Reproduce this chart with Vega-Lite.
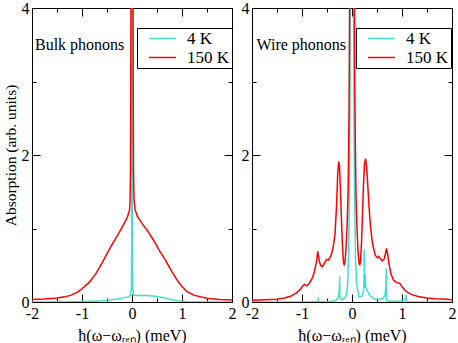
{
"$schema": "https://vega.github.io/schema/vega-lite/v6.json",
"autosize": {"type": "pad"},
"padding": {"left": 3, "top": 0, "right": 0, "bottom": 0},
"background": "white",
"config": {
  "view": {"stroke": null},
  "font": "Liberation Serif",
  "axis": {"domainColor": "black", "tickColor": "black", "labelColor": "black", "labelFont": "Liberation Serif", "labelFontSize": 16, "titleFont": "Liberation Serif", "titleFontSize": 16, "titleFontWeight": "normal", "titleColor": "black", "grid": false, "labelFlush": false, "labelOverlap": false, "domainWidth": 1, "tickWidth": 1},
  "legend": {"orient": "none", "legendY": 20, "title": null, "strokeColor": "black", "fillColor": "white", "padding": 2, "symbolType": "M-4,0H4", "symbolSize": 45, "symbolStrokeWidth": 1.5, "symbolOffset": 15, "labelFont": "Liberation Serif", "labelFontSize": 17, "labelColor": "black", "labelOffset": 16, "rowPadding": 1}
},
"data": {"values": [
{"p":"b","T":"4 K","x":-2,"y":0},{"p":"b","T":"4 K","x":-1.5,"y":0},{"p":"b","T":"4 K","x":-1.2,"y":0.003},{"p":"b","T":"4 K","x":-1,"y":0.006},{"p":"b","T":"4 K","x":-0.8,"y":0.01},{"p":"b","T":"4 K","x":-0.6,"y":0.016},{"p":"b","T":"4 K","x":-0.4,"y":0.03},{"p":"b","T":"4 K","x":-0.2,"y":0.05},{"p":"b","T":"4 K","x":-0.08,"y":0.07},{"p":"b","T":"4 K","x":-0.03,"y":0.09},{"p":"b","T":"4 K","x":-0.012,"y":0.2},{"p":"b","T":"4 K","x":-0.006,"y":0.8},{"p":"b","T":"4 K","x":0,"y":10},{"p":"b","T":"4 K","x":0.006,"y":0.8},{"p":"b","T":"4 K","x":0.012,"y":0.2},{"p":"b","T":"4 K","x":0.03,"y":0.095},{"p":"b","T":"4 K","x":0.1,"y":0.09},{"p":"b","T":"4 K","x":0.3,"y":0.088},{"p":"b","T":"4 K","x":0.5,"y":0.075},{"p":"b","T":"4 K","x":0.65,"y":0.055},{"p":"b","T":"4 K","x":0.8,"y":0.03},{"p":"b","T":"4 K","x":0.95,"y":0.012},{"p":"b","T":"4 K","x":1.1,"y":0.004},{"p":"b","T":"4 K","x":1.3,"y":0},{"p":"b","T":"4 K","x":2,"y":0},
{"p":"b","T":"150 K","x":-2,"y":0.035},{"p":"b","T":"150 K","x":-1.75,"y":0.042},{"p":"b","T":"150 K","x":-1.5,"y":0.055},{"p":"b","T":"150 K","x":-1.35,"y":0.07},{"p":"b","T":"150 K","x":-1.23,"y":0.09},{"p":"b","T":"150 K","x":-1.1,"y":0.13},{"p":"b","T":"150 K","x":-1,"y":0.18},{"p":"b","T":"150 K","x":-0.85,"y":0.27},{"p":"b","T":"150 K","x":-0.72,"y":0.39},{"p":"b","T":"150 K","x":-0.6,"y":0.53},{"p":"b","T":"150 K","x":-0.46,"y":0.71},{"p":"b","T":"150 K","x":-0.35,"y":0.84},{"p":"b","T":"150 K","x":-0.26,"y":0.94},{"p":"b","T":"150 K","x":-0.18,"y":1.04},{"p":"b","T":"150 K","x":-0.09,"y":1.16},{"p":"b","T":"150 K","x":-0.05,"y":1.25},{"p":"b","T":"150 K","x":-0.04,"y":1.35},{"p":"b","T":"150 K","x":-0.03,"y":1.8},{"p":"b","T":"150 K","x":-0.02,"y":4.2},{"p":"b","T":"150 K","x":0,"y":10},{"p":"b","T":"150 K","x":0.02,"y":4.2},{"p":"b","T":"150 K","x":0.03,"y":1.8},{"p":"b","T":"150 K","x":0.04,"y":1.4},{"p":"b","T":"150 K","x":0.06,"y":1.26},{"p":"b","T":"150 K","x":0.11,"y":1.16},{"p":"b","T":"150 K","x":0.2,"y":1.07},{"p":"b","T":"150 K","x":0.34,"y":0.94},{"p":"b","T":"150 K","x":0.44,"y":0.83},{"p":"b","T":"150 K","x":0.54,"y":0.71},{"p":"b","T":"150 K","x":0.67,"y":0.57},{"p":"b","T":"150 K","x":0.8,"y":0.41},{"p":"b","T":"150 K","x":0.9,"y":0.3},{"p":"b","T":"150 K","x":1,"y":0.21},{"p":"b","T":"150 K","x":1.1,"y":0.14},{"p":"b","T":"150 K","x":1.25,"y":0.09},{"p":"b","T":"150 K","x":1.5,"y":0.05},{"p":"b","T":"150 K","x":1.75,"y":0.035},{"p":"b","T":"150 K","x":2,"y":0.028},
{"p":"w","T":"4 K","x":-2,"y":0},{"p":"w","T":"4 K","x":-1,"y":0},{"p":"w","T":"4 K","x":-0.8,"y":0.002},{"p":"w","T":"4 K","x":-0.68,"y":0.006},{"p":"w","T":"4 K","x":-0.672,"y":0.065},{"p":"w","T":"4 K","x":-0.668,"y":0.004},{"p":"w","T":"4 K","x":-0.5,"y":0.006},{"p":"w","T":"4 K","x":-0.4,"y":0.01},{"p":"w","T":"4 K","x":-0.33,"y":0.02},{"p":"w","T":"4 K","x":-0.29,"y":0.04},{"p":"w","T":"4 K","x":-0.265,"y":0.09},{"p":"w","T":"4 K","x":-0.252,"y":0.2},{"p":"w","T":"4 K","x":-0.246,"y":0.35},{"p":"w","T":"4 K","x":-0.243,"y":0.08},{"p":"w","T":"4 K","x":-0.235,"y":0.05},{"p":"w","T":"4 K","x":-0.21,"y":0.03},{"p":"w","T":"4 K","x":-0.17,"y":0.04},{"p":"w","T":"4 K","x":-0.13,"y":0.07},{"p":"w","T":"4 K","x":-0.1,"y":0.14},{"p":"w","T":"4 K","x":-0.085,"y":0.26},{"p":"w","T":"4 K","x":-0.065,"y":0.7},{"p":"w","T":"4 K","x":-0.05,"y":1.6},{"p":"w","T":"4 K","x":-0.04,"y":3},{"p":"w","T":"4 K","x":-0.02,"y":7},{"p":"w","T":"4 K","x":0,"y":10},{"p":"w","T":"4 K","x":0.02,"y":7},{"p":"w","T":"4 K","x":0.04,"y":2.6},{"p":"w","T":"4 K","x":0.05,"y":1.5},{"p":"w","T":"4 K","x":0.07,"y":0.6},{"p":"w","T":"4 K","x":0.09,"y":0.26},{"p":"w","T":"4 K","x":0.14,"y":0.07},{"p":"w","T":"4 K","x":0.2,"y":0.08},{"p":"w","T":"4 K","x":0.23,"y":0.15},{"p":"w","T":"4 K","x":0.24,"y":0.3},{"p":"w","T":"4 K","x":0.247,"y":0.72},{"p":"w","T":"4 K","x":0.252,"y":0.2},{"p":"w","T":"4 K","x":0.262,"y":0.2},{"p":"w","T":"4 K","x":0.268,"y":0.38},{"p":"w","T":"4 K","x":0.273,"y":0.22},{"p":"w","T":"4 K","x":0.29,"y":0.17},{"p":"w","T":"4 K","x":0.31,"y":0.15},{"p":"w","T":"4 K","x":0.35,"y":0.09},{"p":"w","T":"4 K","x":0.45,"y":0.04},{"p":"w","T":"4 K","x":0.55,"y":0.035},{"p":"w","T":"4 K","x":0.62,"y":0.05},{"p":"w","T":"4 K","x":0.66,"y":0.09},{"p":"w","T":"4 K","x":0.678,"y":0.2},{"p":"w","T":"4 K","x":0.684,"y":0.46},{"p":"w","T":"4 K","x":0.688,"y":0.02},{"p":"w","T":"4 K","x":0.75,"y":0.01},{"p":"w","T":"4 K","x":0.9,"y":0.01},{"p":"w","T":"4 K","x":1.03,"y":0.02},{"p":"w","T":"4 K","x":1.075,"y":0.05},{"p":"w","T":"4 K","x":1.085,"y":0.1},{"p":"w","T":"4 K","x":1.09,"y":0},{"p":"w","T":"4 K","x":1.3,"y":0},{"p":"w","T":"4 K","x":2,"y":0},
{"p":"w","T":"150 K","x":-2,"y":0.023},{"p":"w","T":"150 K","x":-1.75,"y":0.03},{"p":"w","T":"150 K","x":-1.5,"y":0.036},{"p":"w","T":"150 K","x":-1.35,"y":0.055},{"p":"w","T":"150 K","x":-1.23,"y":0.077},{"p":"w","T":"150 K","x":-1.12,"y":0.12},{"p":"w","T":"150 K","x":-1.05,"y":0.16},{"p":"w","T":"150 K","x":-0.98,"y":0.22},{"p":"w","T":"150 K","x":-0.95,"y":0.24},{"p":"w","T":"150 K","x":-0.9,"y":0.22},{"p":"w","T":"150 K","x":-0.85,"y":0.26},{"p":"w","T":"150 K","x":-0.79,"y":0.33},{"p":"w","T":"150 K","x":-0.75,"y":0.42},{"p":"w","T":"150 K","x":-0.71,"y":0.55},{"p":"w","T":"150 K","x":-0.685,"y":0.69},{"p":"w","T":"150 K","x":-0.66,"y":0.58},{"p":"w","T":"150 K","x":-0.63,"y":0.5},{"p":"w","T":"150 K","x":-0.59,"y":0.48},{"p":"w","T":"150 K","x":-0.55,"y":0.53},{"p":"w","T":"150 K","x":-0.51,"y":0.58},{"p":"w","T":"150 K","x":-0.47,"y":0.57},{"p":"w","T":"150 K","x":-0.42,"y":0.63},{"p":"w","T":"150 K","x":-0.38,"y":0.73},{"p":"w","T":"150 K","x":-0.34,"y":0.92},{"p":"w","T":"150 K","x":-0.31,"y":1.3},{"p":"w","T":"150 K","x":-0.285,"y":1.75},{"p":"w","T":"150 K","x":-0.265,"y":1.91},{"p":"w","T":"150 K","x":-0.25,"y":1.85},{"p":"w","T":"150 K","x":-0.23,"y":1.5},{"p":"w","T":"150 K","x":-0.21,"y":1.1},{"p":"w","T":"150 K","x":-0.19,"y":0.75},{"p":"w","T":"150 K","x":-0.17,"y":0.54},{"p":"w","T":"150 K","x":-0.155,"y":0.5},{"p":"w","T":"150 K","x":-0.14,"y":0.55},{"p":"w","T":"150 K","x":-0.12,"y":0.72},{"p":"w","T":"150 K","x":-0.1,"y":1},{"p":"w","T":"150 K","x":-0.08,"y":1.45},{"p":"w","T":"150 K","x":-0.066,"y":2.07},{"p":"w","T":"150 K","x":-0.055,"y":3},{"p":"w","T":"150 K","x":-0.045,"y":4.5},{"p":"w","T":"150 K","x":-0.02,"y":10},{"p":"w","T":"150 K","x":0,"y":12},{"p":"w","T":"150 K","x":0.02,"y":10},{"p":"w","T":"150 K","x":0.045,"y":4.5},{"p":"w","T":"150 K","x":0.055,"y":3},{"p":"w","T":"150 K","x":0.068,"y":2.07},{"p":"w","T":"150 K","x":0.08,"y":1.45},{"p":"w","T":"150 K","x":0.1,"y":1},{"p":"w","T":"150 K","x":0.12,"y":0.7},{"p":"w","T":"150 K","x":0.14,"y":0.53},{"p":"w","T":"150 K","x":0.155,"y":0.5},{"p":"w","T":"150 K","x":0.17,"y":0.56},{"p":"w","T":"150 K","x":0.19,"y":0.8},{"p":"w","T":"150 K","x":0.21,"y":1.2},{"p":"w","T":"150 K","x":0.23,"y":1.6},{"p":"w","T":"150 K","x":0.25,"y":1.88},{"p":"w","T":"150 K","x":0.27,"y":1.95},{"p":"w","T":"150 K","x":0.29,"y":1.85},{"p":"w","T":"150 K","x":0.31,"y":1.65},{"p":"w","T":"150 K","x":0.34,"y":1.3},{"p":"w","T":"150 K","x":0.37,"y":1.03},{"p":"w","T":"150 K","x":0.4,"y":0.85},{"p":"w","T":"150 K","x":0.43,"y":0.73},{"p":"w","T":"150 K","x":0.47,"y":0.63},{"p":"w","T":"150 K","x":0.51,"y":0.6},{"p":"w","T":"150 K","x":0.53,"y":0.62},{"p":"w","T":"150 K","x":0.56,"y":0.6},{"p":"w","T":"150 K","x":0.6,"y":0.56},{"p":"w","T":"150 K","x":0.64,"y":0.58},{"p":"w","T":"150 K","x":0.67,"y":0.66},{"p":"w","T":"150 K","x":0.69,"y":0.73},{"p":"w","T":"150 K","x":0.71,"y":0.66},{"p":"w","T":"150 K","x":0.74,"y":0.52},{"p":"w","T":"150 K","x":0.78,"y":0.38},{"p":"w","T":"150 K","x":0.83,"y":0.3},{"p":"w","T":"150 K","x":0.88,"y":0.27},{"p":"w","T":"150 K","x":0.93,"y":0.26},{"p":"w","T":"150 K","x":0.96,"y":0.25},{"p":"w","T":"150 K","x":1.01,"y":0.2},{"p":"w","T":"150 K","x":1.06,"y":0.16},{"p":"w","T":"150 K","x":1.11,"y":0.13},{"p":"w","T":"150 K","x":1.2,"y":0.1},{"p":"w","T":"150 K","x":1.32,"y":0.075},{"p":"w","T":"150 K","x":1.5,"y":0.055},{"p":"w","T":"150 K","x":1.65,"y":0.045},{"p":"w","T":"150 K","x":1.8,"y":0.04},{"p":"w","T":"150 K","x":1.9,"y":0.037},{"p":"w","T":"150 K","x":2,"y":0.03}
]},
"spacing": 20,
"bounds": "flush",
"resolve": {"scale": {"color": "independent"}, "legend": {"color": "independent"}},
"hconcat": [
{
  "width": 200, "height": 294,
  "transform": [{"filter": "datum.p === 'b'"}],
  "layer": [
    {
      "layer": [
        {"transform": [{"filter": "datum.T === '4 K'"}], "mark": {"type": "line", "clip": true, "strokeWidth": 1.5}},
        {"transform": [{"filter": "datum.T === '150 K'"}], "mark": {"type": "line", "clip": true, "strokeWidth": 1.5}}
      ],
      "encoding": {
        "x": {"field": "x", "type": "quantitative", "scale": {"domain": [-2, 2], "nice": false, "zero": false},
              "axis": {"orient": "bottom", "values": [-2, -1.5, -1, -0.5, 0, 0.5, 1, 1.5, 2], "tickSize": {"condition": {"test": "datum.value % 1 === 0", "value": -8}, "value": -4}, "labelExpr": "datum.value % 1 === 0 ? '' + datum.value : ''", "labelPadding": 11, "title": "ħ(ω−ωᵣₑₙ) (meV)", "titlePadding": 2}},
        "y": {"field": "y", "type": "quantitative", "scale": {"domain": [0, 4], "nice": false},
              "axis": {"orient": "left", "values": [0, 1, 2, 3, 4], "tickSize": {"condition": {"test": "datum.value % 2 === 0", "value": -8}, "value": -4}, "labelExpr": "datum.value % 2 === 0 ? '' + datum.value : ''", "labelPadding": 11, "title": "Absorption (arb. units)", "titlePadding": 3, "titleFontSize": 15.5}},
        "color": {"field": "T", "type": "nominal", "scale": {"domain": ["4 K", "150 K"], "range": ["#40E0D0", "#FF0000"]}, "legend": {"legendX": 105}}
      }
    },
    {
      "data": {"values": [{}]},
      "mark": {"type": "text", "align": "left", "baseline": "middle", "fontSize": 16, "font": "Liberation Serif", "color": "black"},
      "encoding": {
        "x": {"datum": -1.94, "type": "quantitative", "axis": {"orient": "top", "values": [-2, -1.5, -1, -0.5, 0, 0.5, 1, 1.5, 2], "tickSize": {"condition": {"test": "datum.value % 1 === 0", "value": -8}, "value": -4}, "labels": false, "title": null}},
        "y": {"datum": 3.5, "type": "quantitative", "axis": {"orient": "right", "values": [0, 1, 2, 3, 4], "tickSize": {"condition": {"test": "datum.value % 2 === 0", "value": -8}, "value": -4}, "labels": false, "title": null}},
        "text": {"value": "Bulk phonons"}
      }
    }
  ],
  "resolve": {"axis": {"x": "independent", "y": "independent"}}
},
{
  "width": 200, "height": 294,
  "transform": [{"filter": "datum.p === 'w'"}],
  "layer": [
    {
      "layer": [
        {"transform": [{"filter": "datum.T === '4 K'"}], "mark": {"type": "line", "clip": true, "strokeWidth": 1.5}},
        {"transform": [{"filter": "datum.T === '150 K'"}], "mark": {"type": "line", "clip": true, "strokeWidth": 1.5}}
      ],
      "encoding": {
        "x": {"field": "x", "type": "quantitative", "scale": {"domain": [-2, 2], "nice": false, "zero": false},
              "axis": {"orient": "bottom", "values": [-2, -1.5, -1, -0.5, 0, 0.5, 1, 1.5, 2], "tickSize": {"condition": {"test": "datum.value % 1 === 0", "value": -8}, "value": -4}, "labelExpr": "datum.value % 1 === 0 ? '' + datum.value : ''", "labelPadding": 11, "title": "ħ(ω−ωᵣₑₙ) (meV)", "titlePadding": 2}},
        "y": {"field": "y", "type": "quantitative", "scale": {"domain": [0, 4], "nice": false},
              "axis": {"orient": "left", "values": [0, 1, 2, 3, 4], "tickSize": {"condition": {"test": "datum.value % 2 === 0", "value": -8}, "value": -4}, "labelExpr": "datum.value % 2 === 0 ? '' + datum.value : ''", "labelPadding": 11, "title": null}},
        "color": {"field": "T", "type": "nominal", "scale": {"domain": ["4 K", "150 K"], "range": ["#40E0D0", "#FF0000"]}, "legend": {"legendX": 104}}
      }
    },
    {
      "data": {"values": [{}]},
      "mark": {"type": "text", "align": "left", "baseline": "middle", "fontSize": 16, "font": "Liberation Serif", "color": "black"},
      "encoding": {
        "x": {"datum": -1.91, "type": "quantitative", "axis": {"orient": "top", "values": [-2, -1.5, -1, -0.5, 0, 0.5, 1, 1.5, 2], "tickSize": {"condition": {"test": "datum.value % 1 === 0", "value": -8}, "value": -4}, "labels": false, "title": null}},
        "y": {"datum": 3.5, "type": "quantitative", "axis": {"orient": "right", "values": [0, 1, 2, 3, 4], "tickSize": {"condition": {"test": "datum.value % 2 === 0", "value": -8}, "value": -4}, "labels": false, "title": null}},
        "text": {"value": "Wire phonons"}
      }
    }
  ],
  "resolve": {"axis": {"x": "independent", "y": "independent"}}
}
]
}
